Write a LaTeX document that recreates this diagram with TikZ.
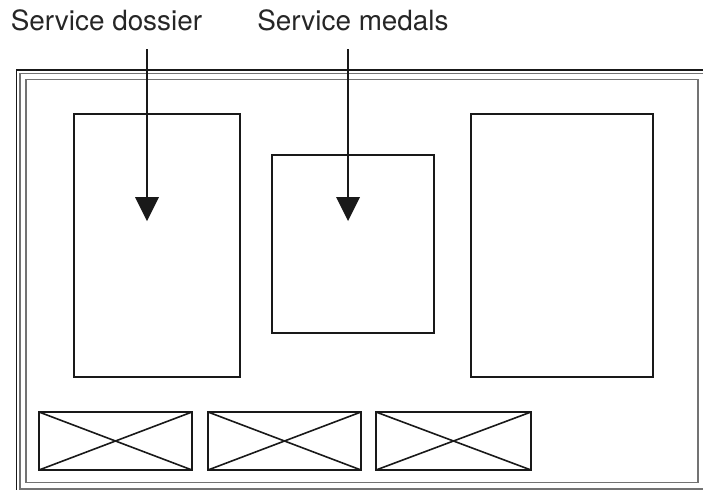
\documentclass[tikz,border=0pt]{standalone}
\usepackage{fontspec}
\setmainfont{TeX Gyre Heros}
\tikzset{
  x=0.75pt,y=-0.75pt,
  frameouter/.style={draw=black!90,line width=1.2pt},
  frameinner/.style={draw=black!55,line width=1pt},
  box/.style={draw=black!90,line width=1.2pt},
  lbl/.style={font=\fontsize{20.9pt}{24pt}\selectfont,text=black!85,inner sep=0pt,anchor=base west},
  pointer/.style={draw=black!90,line width=2pt},
  head/.style={fill=black!90,draw=none},
}
\begin{document}
\begin{tikzpicture}
\useasboundingbox (0,0) rectangle (703,490);
\draw[frameouter] (703,70) -- (16.5,70) -- (16.5,490);
\draw[frameinner] (703,73.5) -- (20,73.5) -- (20,489) -- (703,489);
\draw[frameinner] (26,79.5) rectangle (698,482.5);
\coordinate (a1) at (74,114); \coordinate (a2) at (240,377);
\coordinate (b1) at (272,155); \coordinate (b2) at (434,333);
\coordinate (c1) at (471,114); \coordinate (c2) at (653,377);
\draw[box] (a1) rectangle (a2);
\draw[box] (b1) rectangle (b2);
\draw[box] (c1) rectangle (c2);
\foreach \l/\r in {39/192,208/361,376/531}{
  \draw[box] (\l,412) rectangle (\r,470);
  \draw[box] (\l,412) -- (\r,470);
  \draw[box] (\l,470) -- (\r,412);
}
\node[lbl] (t1) at (10.5,30) {Service dossier};
\node[lbl] (t2) at (257,30) {Service medals};
\coordinate (s1) at (147,49);
\coordinate (s2) at (348,49);
\coordinate (e1) at (147,198);
\coordinate (e2) at (348,198);
\draw[pointer] (s1) -- (e1);
\draw[pointer] (s2) -- (e2);
\fill[head] (135,197) -- (159,197) -- (147,221) -- cycle;
\fill[head] (336,197) -- (360,197) -- (348,221) -- cycle;
\end{tikzpicture}
\end{document}
